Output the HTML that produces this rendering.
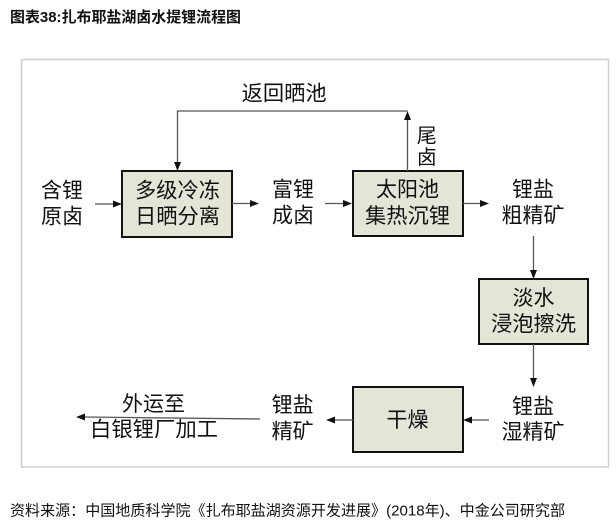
<!DOCTYPE html>
<html>
<head>
<meta charset="utf-8">
<style>
html,body{margin:0;padding:0;background:#fff;}
body{width:616px;height:525px;overflow:hidden;}
svg{display:block;}
text{font-family:"Liberation Sans","Noto Sans CJK SC",sans-serif;fill:#111;}
</style>
</head>
<body>
<svg width="616" height="525" viewBox="0 0 616 525" xmlns="http://www.w3.org/2000/svg">
  <!-- title -->
  <text x="10" y="22" font-size="15" font-weight="bold" textLength="231" lengthAdjust="spacingAndGlyphs" fill="#000">图表38:扎布耶盐湖卤水提锂流程图</text>

  <!-- frame -->
  <rect x="21.5" y="59.5" width="587" height="407.5" fill="#fff" stroke="#d0d0d0" stroke-width="1.5"/>

  <!-- boxes -->
  <g fill="#e4e4d7" stroke="#111" stroke-width="2">
    <rect x="122" y="171" width="110" height="66"/>
    <rect x="353" y="171" width="110" height="65"/>
    <rect x="479" y="279" width="109" height="65"/>
    <rect x="353" y="387" width="110" height="65"/>
  </g>

  <!-- connector lines -->
  <g fill="none" stroke="#555" stroke-width="1.3">
    <path d="M95,204 H114"/>
    <path d="M232,203.5 H251"/>
    <path d="M325,203.5 H344"/>
    <path d="M463,203.5 H481"/>
    <path d="M533.5,236 V271"/>
    <path d="M533.5,344 V379"/>
    <path d="M489,420 H471"/>
    <path d="M353,420 H335"/>
    <path d="M260,419 L84,417"/>
    <path d="M407.5,171 V119"/>
    <path d="M407.5,111 H177.5 V163"/>
  </g>

  <!-- arrowheads -->
  <g fill="#111">
    <polygon points="122,204 113,200.5 113,207.5"/>
    <polygon points="259,203.5 250,200 250,207"/>
    <polygon points="352,203.5 343,200 343,207"/>
    <polygon points="489,203.5 480,200 480,207"/>
    <polygon points="533.5,279 530,270 537,270"/>
    <polygon points="533.5,387 530,378 537,378"/>
    <polygon points="463,420 472,416.5 472,423.5"/>
    <polygon points="326,420 335,416.5 335,423.5"/>
    <polygon points="76,417 85,413.5 85,420.5"/>
    <polygon points="407.5,111 404,120 411,120"/>
    <polygon points="177.5,171 174,162 181,162"/>
  </g>

  <!-- labels -->
  <g font-size="21" text-anchor="middle">
    <text x="62" y="197.5">含锂</text>
    <text x="62" y="223.5">原卤</text>

    <text x="177.5" y="197.5" textLength="85" lengthAdjust="spacingAndGlyphs">多级冷冻</text>
    <text x="177.5" y="223.5" textLength="85" lengthAdjust="spacingAndGlyphs">日晒分离</text>

    <text x="293" y="196.5">富锂</text>
    <text x="293" y="222.5">成卤</text>

    <text x="407.5" y="196.5">太阳池</text>
    <text x="407.5" y="223" textLength="85" lengthAdjust="spacingAndGlyphs">集热沉锂</text>

    <text x="533" y="196.5">锂盐</text>
    <text x="533" y="222.5">粗精矿</text>

    <text x="533.5" y="305">淡水</text>
    <text x="533.5" y="331" textLength="85" lengthAdjust="spacingAndGlyphs">浸泡擦洗</text>

    <text x="533" y="413.5">锂盐</text>
    <text x="533" y="439">湿精矿</text>

    <text x="407.5" y="427">干燥</text>

    <text x="292.6" y="412">锂盐</text>
    <text x="292.6" y="438.5">精矿</text>

    <text x="153.5" y="411">外运至</text>
    <text x="154" y="436.5" textLength="128" lengthAdjust="spacingAndGlyphs">白银锂厂加工</text>
  </g>

  <text x="241.7" y="100.5" font-size="21" textLength="85" lengthAdjust="spacingAndGlyphs">返回晒池</text>
  <text x="426.7" y="142.5" font-size="20" text-anchor="middle">尾</text>
  <text x="426.7" y="164" font-size="20" text-anchor="middle">卤</text>

  <!-- source -->
  <text x="10" y="515.5" font-size="15" fill="#222" textLength="555" lengthAdjust="spacingAndGlyphs">资料来源：中国地质科学院《扎布耶盐湖资源开发进展》(2018年)、中金公司研究部</text>
</svg>
</body>
</html>
